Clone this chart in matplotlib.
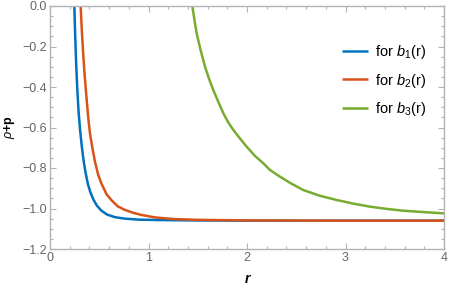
import matplotlib
matplotlib.use('Agg')
import matplotlib.pyplot as plt
from matplotlib.ticker import MultipleLocator

# values
r1 = [0.247, 0.256, 0.266, 0.277, 0.290, 0.305, 0.322, 0.340, 0.360, 0.385, 0.410, 0.44, 0.475,
      0.52, 0.58, 0.66, 0.76, 0.9, 1.1, 1.5, 2.0, 3.0, 4.0]
y1 = [0.0, -0.15, -0.29, -0.41, -0.52, -0.61, -0.69, -0.76, -0.82, -0.88, -0.92, -0.955, -0.985,
      -1.01, -1.03, -1.043, -1.05, -1.055, -1.057, -1.059, -1.06, -1.06, -1.06]

r2 = [0.311, 0.322, 0.335, 0.35, 0.37, 0.39, 0.406, 0.43, 0.457, 0.49, 0.525, 0.575, 0.626, 0.69,
      0.761, 0.85, 0.931, 1.066, 1.25, 1.5, 2.0, 3.0, 4.0]
y2 = [0.0, -0.11, -0.22, -0.33, -0.45, -0.56, -0.63, -0.70, -0.77, -0.835, -0.88, -0.93, -0.96, -0.99,
      -1.007, -1.022, -1.032, -1.044, -1.052, -1.056, -1.059, -1.06, -1.06]

r3 = [1.445, 1.47, 1.489, 1.53, 1.574, 1.615, 1.658, 1.71, 1.76, 1.81, 1.861, 1.93, 1.997, 2.08,
      2.166, 2.234, 2.335, 2.45, 2.572, 2.74, 2.91, 3.08, 3.249, 3.42, 3.587, 3.8, 4.0]
y3 = [0.0, -0.08, -0.135, -0.22, -0.30, -0.36, -0.415, -0.475, -0.53, -0.575, -0.612, -0.655, -0.695, -0.74,
      -0.777, -0.81, -0.843, -0.877, -0.909, -0.937, -0.958, -0.976, -0.991, -1.002, -1.011, -1.018, -1.024]

labels = [r'for $b_1$(r)', r'for $b_2$(r)', r'for $b_3$(r)']
colors = ['#0072BD', '#D95319', '#77AC30']

plt.rcParams['font.family'] = ['Liberation Sans', 'DejaVu Sans']
plt.rcParams['mathtext.fontset'] = 'custom'
plt.rcParams['mathtext.it'] = 'Liberation Sans:italic'
plt.rcParams['mathtext.rm'] = 'Liberation Sans'

fig = plt.figure(figsize=(4.49, 2.89), dpi=100)
ax = fig.add_axes([50 / 449, 1 - 249 / 289, 394 / 449, 243 / 289])

for r, y, lab, c in zip([r1, r2, r3], [y1, y2, y3], labels, colors):
    ax.plot(r, y, color=c, lw=1.8, label=lab, solid_joinstyle='round', solid_capstyle='butt')

ax.set_xlim(0, 4)
ax.set_ylim(-1.2, 0)
ax.xaxis.set_minor_locator(MultipleLocator(0.2))
ax.yaxis.set_minor_locator(MultipleLocator(0.05))
ax.set_xticks([0, 1, 2, 3, 4], ['0', '1', '2', '3', '4'])
ax.set_yticks([0, -0.2, -0.4, -0.6, -0.8, -1.0, -1.2],
              ['0.0', '\u22120.2', '\u22120.4', '\u22120.6', '\u22120.8', '\u22121.0', '\u22121.2'])

frame_c = '#b3b3b3'
for s in ax.spines.values():
    s.set_color(frame_c)
    s.set_linewidth(1.0)
ax.tick_params(which='both', direction='in', top=True, right=True, color=frame_c,
               labelcolor='#666666', labelsize=9, width=0.8)
ax.tick_params(which='major', length=4, pad=2)
ax.tick_params(which='minor', length=2)

ax.set_xlabel('r', style='italic', fontweight='bold', fontsize=10)
ax.xaxis.set_label_coords(0.5, -23 / 243)
ax.set_ylabel(r'$\rho$+p', fontsize=9, fontweight='bold')
ax.yaxis.set_label_coords(-33 / 394, 0.5)

ax.legend(loc='upper left', bbox_to_anchor=(342 / 449, 1 - 43 / 289), bbox_transform=fig.transFigure,
          frameon=False, fontsize=10.5, borderpad=0, borderaxespad=0,
          handlelength=1.75, handletextpad=0.5, labelspacing=0.72)

fig.savefig('out.png', dpi=100)
